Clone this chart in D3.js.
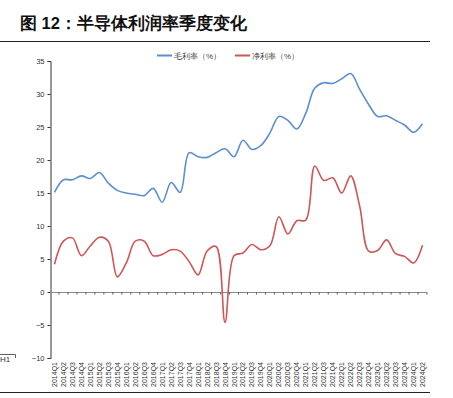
<!DOCTYPE html>
<html>
<head>
<meta charset="utf-8">
<script src="https://cdn.jsdelivr.net/npm/d3@7"></script>
<style>
  body { margin: 0; background: #fff; }
  #chart { width: 453px; height: 398px; }
  text { font-family: "Liberation Sans", Arial, sans-serif; }
</style>
</head>
<body>
<div id="chart"></div>
<script>
const quarters = [
  "2014Q1", "2014Q2", "2014Q3", "2014Q4", "2015Q1", "2015Q2", "2015Q3", "2015Q4",
  "2016Q1", "2016Q2", "2016Q3", "2016Q4", "2017Q1", "2017Q2", "2017Q3", "2017Q4",
  "2018Q1", "2018Q2", "2018Q3", "2018Q4", "2019Q1", "2019Q2", "2019Q3", "2019Q4",
  "2020Q1", "2020Q2", "2020Q3", "2020Q4", "2021Q1", "2021Q2", "2021Q3", "2021Q4",
  "2022Q1", "2022Q2", "2022Q3", "2022Q4", "2023Q1", "2023Q2", "2023Q3", "2023Q4",
  "2024Q1", "2024Q2"
];
const grossMargin = [
  15.1, 17.0, 17.0, 17.6, 17.2, 18.1, 16.5, 15.4, 15.0, 14.8, 14.6, 15.7,
  13.6, 16.6, 15.1, 21.1, 20.5, 20.4, 21.1, 21.7, 20.5, 23.0, 21.6, 22.2,
  24.1, 26.6, 26.0, 24.7, 27.1, 30.9, 31.7, 31.6, 32.3, 33.1, 30.7, 28.4,
  26.6, 26.7, 26.0, 25.3, 24.2, 25.5
];
const netMargin = [
  4.2, 7.7, 8.2, 5.5, 7.0, 8.3, 7.7, 2.3, 4.4, 7.7, 7.7, 5.5,
  5.7, 6.4, 6.2, 4.6, 2.6, 6.2, 6.9, -4.6, 5.5, 5.9, 7.2, 6.4,
  7.0, 11.4, 8.8, 10.8, 10.9, 19.1, 16.9, 17.3, 15.0, 17.6, 13.0, 6.2,
  6.3, 7.9, 5.8, 5.4, 4.4, 7.1
];
const yTicks = [-10, -5, 0, 5, 10, 15, 20, 25, 30, 35];
const seriesNames = ["毛利率（%）", "净利率（%）"];
const seriesColors = ["#5b8fd0", "#cf5557"];

const width = 453, height = 398;
const svg = d3.select("#chart").append("svg")
  .attr("width", width).attr("height", height);

// title + rule
svg.append("text")
  .attr("x", 20).attr("y", 29)
  .attr("font-family", "'Noto Sans CJK SC', sans-serif")
  .attr("font-weight", "bold")
  .attr("font-size", 16.5)
  .attr("fill", "#111")
  .text("图 12：半导体利润率季度变化");

svg.append("line")
  .attr("x1", 0).attr("x2", 430).attr("y1", 41.5).attr("y2", 41.5)
  .attr("stroke", "#222").attr("stroke-width", 1);

svg.append("line")
  .attr("x1", 0).attr("x2", 430).attr("y1", 392.5).attr("y2", 392.5)
  .attr("stroke", "#222").attr("stroke-width", 1);

// leftover of the neighbouring figure
svg.append("path")
  .attr("d", "M0,354.5H15.5V358")
  .attr("fill", "none").attr("stroke", "#333").attr("stroke-width", 0.8);
svg.append("text")
  .attr("x", 0).attr("y", 362)
  .attr("font-size", 8).attr("fill", "#333")
  .text("H1");

const x = d3.scaleBand().domain(quarters).range([50, 427]);
const y = d3.scaleLinear().domain([-10, 35]).range([358, 61]);

// y axis
const yAxis = svg.append("g")
  .attr("transform", "translate(50.5,0)")
  .call(d3.axisLeft(y).tickValues(yTicks).tickSize(3).tickFormat(d => d < 0 ? "\u2212" + (-d) : d));
yAxis.select(".domain").attr("stroke", "#333");
yAxis.selectAll(".tick line").attr("stroke", "#333");
yAxis.selectAll(".tick text")
  .attr("font-size", 7.5).attr("fill", "#333").attr("x", -6);

// zero axis with boundary ticks
const xAxis = svg.append("g")
  .attr("transform", `translate(0,${y(0) + 0.5})`);
xAxis.append("line")
  .attr("x1", 50).attr("x2", 427)
  .attr("stroke", "#888").attr("stroke-width", 1);
xAxis.selectAll(".btick")
  .data(quarters)
  .enter()
  .append("line")
  .attr("class", "btick")
  .attr("x1", d => x(d) + x.bandwidth())
  .attr("x2", d => x(d) + x.bandwidth())
  .attr("y1", 0).attr("y2", 2)
  .attr("stroke", "#555");

// category labels at the bottom
svg.append("g")
  .selectAll("text")
  .data(quarters)
  .enter()
  .append("text")
  .attr("transform", d => `translate(${x(d) + x.bandwidth() / 2 + 2.5},362) rotate(-90)`)
  .attr("text-anchor", "end")
  .attr("font-size", 7)
  .attr("fill", "#333")
  .text(d => d);

// lines
const line = d3.line()
  .x((d, i) => x(quarters[i]) + x.bandwidth() / 2)
  .y(d => y(d))
  .curve(d3.curveCatmullRom.alpha(0.5));

[grossMargin, netMargin].forEach((s, k) => {
  svg.append("path")
    .datum(s)
    .attr("fill", "none")
    .attr("stroke", seriesColors[k])
    .attr("stroke-width", 1.6)
    .attr("d", line);
});

// legend
const legend = svg.append("g").attr("transform", "translate(157,55)");
seriesNames.forEach((name, k) => {
  const g = legend.append("g").attr("transform", `translate(${k * 78},0)`);
  g.append("line")
    .attr("x1", 0).attr("x2", 15).attr("y1", 0.5).attr("y2", 0.5)
    .attr("stroke", seriesColors[k]).attr("stroke-width", 2);
  g.append("text")
    .attr("x", 17).attr("y", 3.5)
    .attr("font-family", "'Noto Sans CJK SC', sans-serif")
    .attr("font-size", 8)
    .attr("fill", "#444")
    .text(name);
});
</script>
</body>
</html>
